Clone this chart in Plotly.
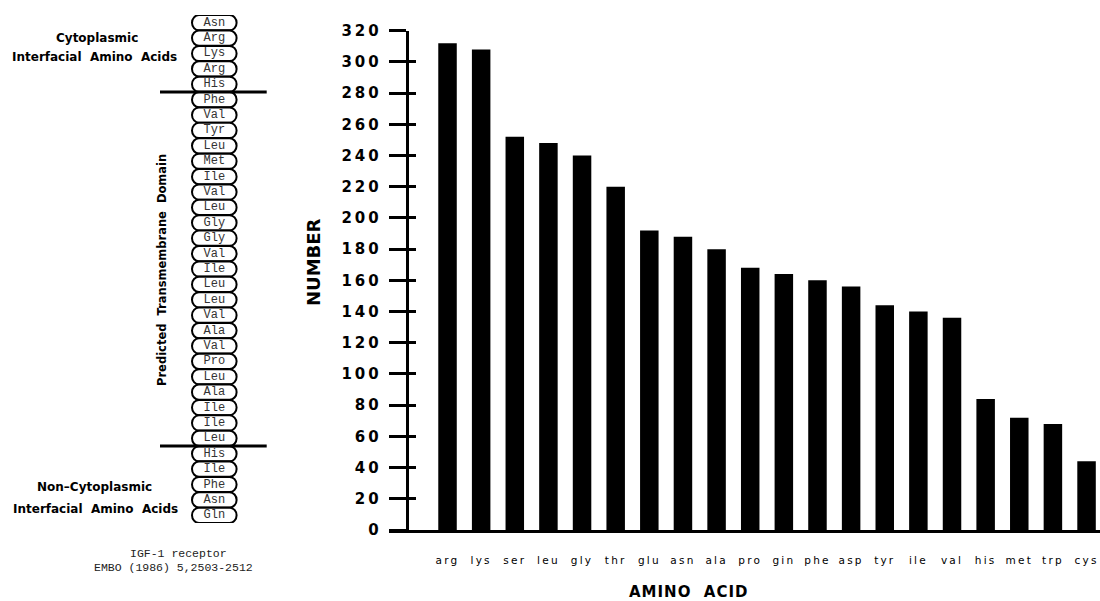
import plotly.graph_objects as go

W, H = 1100, 601

# ---------------- data ----------------
amino_acids = ["arg", "lys", "ser", "leu", "gly", "thr", "glu", "asn", "ala", "pro",
               "gin", "phe", "asp", "tyr", "ile", "val", "his", "met", "trp", "cys"]
counts = [312, 308, 252, 248, 240, 220, 192, 188, 180, 168,
          164, 160, 156, 144, 140, 136, 84, 72, 68, 44]
y_ticks = list(range(0, 321, 20))

cyto_residues = ["Asn", "Arg", "Lys", "Arg", "His"]
tm_residues = ["Phe", "Val", "Tyr", "Leu", "Met", "Ile", "Val", "Leu", "Gly", "Gly",
               "Val", "Ile", "Leu", "Leu", "Val", "Ala", "Val", "Pro", "Leu", "Ala",
               "Ile", "Ile", "Leu"]
noncyto_residues = ["His", "Ile", "Phe", "Asn", "Gln"]

residues = cyto_residues + tm_residues + noncyto_residues
n_res = len(residues)
row_index = list(range(n_res))


def px(x):
    return x / W


def py(y):
    return 1 - y / H


def spaced(text, ls):
    return f'<span style="letter-spacing:{ls}px">{text}</span>'


BOLD = "DejaVu Sans"
MONO = "Liberation Mono"

fig = go.Figure()

# ---------------- bar chart ----------------
fig.add_trace(go.Bar(
    x=amino_acids, y=counts, width=0.55,
    marker=dict(color="black", line=dict(width=0)),
    xaxis="x", yaxis="y", hoverinfo="x+y", showlegend=False,
))
# helper trace for inside tick marks (overlay axis)
fig.add_trace(go.Scatter(
    x=amino_acids[:1], y=[0], mode="markers", marker=dict(opacity=0),
    xaxis="x", yaxis="y3", hoverinfo="skip", showlegend=False,
))

# ---------------- membrane diagram ----------------
fig.add_trace(go.Scatter(
    x=[0] * n_res, y=row_index, mode="text", text=residues,
    textposition="middle center",
    textfont=dict(family=MONO, size=12, color="#333333"),
    xaxis="x2", yaxis="y2", hoverinfo="text", showlegend=False,
))

w, h, rx = 22.3, 7.6, 7.0
c = 0.5523
stadium = (f"M{-w + rx},{h} L{w - rx},{h} "
           f"C{w - rx + c * rx},{h} {w},{c * h} {w},0 "
           f"C{w},{-c * h} {w - rx + c * rx},{-h} {w - rx},{-h} "
           f"L{-w + rx},{-h} "
           f"C{-w + rx - c * rx},{-h} {-w},{-c * h} {-w},0 "
           f"C{-w},{c * h} {-w + rx - c * rx},{h} {-w + rx},{h} Z")

shapes = []
for i in row_index:
    shapes.append(dict(
        type="path", xref="x2", yref="y2", xsizemode="pixel", ysizemode="pixel",
        xanchor=0, yanchor=i, path=stadium,
        line=dict(color="black", width=2), fillcolor="white", layer="below",
    ))

for boundary in (len(cyto_residues) - 0.5, len(cyto_residues) + len(tm_residues) - 0.5):
    shapes.append(dict(
        type="line", xref="x2", yref="y2", x0=-54.3, x1=52.4, y0=boundary, y1=boundary,
        line=dict(color="black", width=3), layer="above",
    ))

annotations = [
    dict(text="Cytoplasmic", x=px(97), y=py(38)),
    dict(text="Interfacial  Amino  Acids", x=px(94), y=py(56.5)),
    dict(text="Non\u2013Cytoplasmic", x=px(94), y=py(487)),
    dict(text="Interfacial  Amino  Acids", x=px(95), y=py(508.5)),
]
for a in annotations:
    a.update(xref="paper", yref="paper", showarrow=False, xanchor="center", yanchor="middle",
             font=dict(family=BOLD, size=12, color="black", weight="bold"))

annotations += [
    dict(text="Predicted  Transmembrane  Domain", x=px(162), y=py(270), textangle=-90,
         xref="paper", yref="paper", showarrow=False, xanchor="center", yanchor="middle",
         font=dict(family=BOLD, size=11.5, color="black", weight="bold")),
    dict(text="IGF-1 receptor", x=px(178), y=py(553),
         xref="paper", yref="paper", showarrow=False, xanchor="center", yanchor="middle",
         font=dict(family=MONO, size=11.5, color="#222222")),
    dict(text="EMBO (1986) 5,2503-2512", x=px(173), y=py(567),
         xref="paper", yref="paper", showarrow=False, xanchor="center", yanchor="middle",
         font=dict(family=MONO, size=11.5, color="#222222")),
    dict(text="NUMBER", x=px(313), y=py(262), textangle=-90,
         xref="paper", yref="paper", showarrow=False, xanchor="center", yanchor="middle",
         font=dict(family=BOLD, size=18, color="black", weight="bold")),
    dict(text=spaced("AMINO  ACID", 1), x=px(689), y=py(592),
         xref="paper", yref="paper", showarrow=False, xanchor="center", yanchor="middle",
         font=dict(family=BOLD, size=15, color="black", weight="bold")),
]

y_dom = [py(530), py(30.7)]

fig.update_layout(
    template="none",
    width=W, height=H,
    margin=dict(l=0, r=0, t=0, b=0, pad=0),
    paper_bgcolor="white", plot_bgcolor="rgba(0,0,0,0)",
    bargap=0.45,
    xaxis=dict(
        domain=[px(389), 1.0], range=[-1.74, 19.40], anchor="y", automargin=False,
        showline=True, linecolor="black", linewidth=3,
        ticks="", showgrid=False, zeroline=False,
        tickmode="array", tickvals=amino_acids,
        ticktext=[spaced(a, 2.2) for a in amino_acids],
        tickfont=dict(family="DejaVu Sans", size=10.5, color="black"),
        ticklabelstandoff=18,
    ),
    yaxis=dict(
        domain=y_dom, range=[0, 320], anchor="free", position=px(406.7), automargin=False,
        showline=True, linecolor="black", linewidth=3,
        ticks="outside", ticklen=17, tickwidth=3, tickcolor="black",
        tickmode="array", tickvals=y_ticks,
        ticktext=[spaced(str(v), 3) for v in y_ticks],
        tickfont=dict(family=BOLD, size=15, color="black", weight="bold"),
        ticklabelstandoff=4,
        showgrid=False, zeroline=False,
    ),
    yaxis3=dict(
        overlaying="y", domain=y_dom, range=[0, 320], anchor="free", position=px(406.7),
        automargin=False,
        showline=False, ticks="inside", ticklen=8, tickwidth=3, tickcolor="black",
        tickmode="array", tickvals=y_ticks, showticklabels=False,
        showgrid=False, zeroline=False,
    ),
    xaxis2=dict(
        domain=[px(140), px(280)], range=[-74.3, 65.7], anchor="y2", automargin=False,
        visible=False, showgrid=False, zeroline=False,
    ),
    yaxis2=dict(
        domain=[py(523), py(15)], range=[n_res - 0.5, -0.5], anchor="x2", automargin=False,
        visible=False, showgrid=False, zeroline=False,
    ),
    shapes=shapes,
    annotations=annotations,
)

fig.write_html(
    "out.html",
    config={"displayModeBar": False},
    post_script="document.body.style.margin='0';document.body.style.overflow='hidden';",
)
